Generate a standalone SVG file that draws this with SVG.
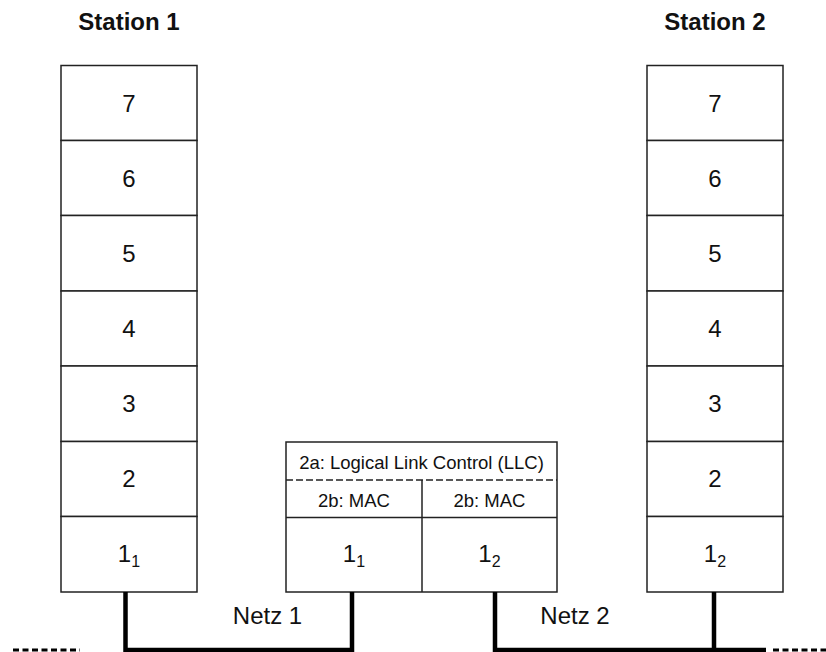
<svg xmlns="http://www.w3.org/2000/svg" width="826" height="652" viewBox="0 0 826 652">
<style>
  .box{fill:#fff;stroke:#222;stroke-width:1.5}
  .ln{stroke:#222;stroke-width:1.5;fill:none}
  .dl{stroke:#222;stroke-width:1.5;stroke-dasharray:7 3;fill:none}
  .t{font-family:"Liberation Sans",Arial,sans-serif;font-size:24px;fill:#111;text-anchor:middle}
  .h{font-family:"Liberation Sans",Arial,sans-serif;font-size:24px;font-weight:bold;fill:#111;text-anchor:middle}
  .s{font-family:"Liberation Sans",Arial,sans-serif;font-size:18.5px;fill:#111;text-anchor:middle}
  .sub{font-size:16px}
  .net{stroke:#000;stroke-width:4.5;fill:none}
  .netd{stroke:#000;stroke-width:3;stroke-dasharray:6 3.5;fill:none}
</style>
<g id="title1"><text class="h" x="129" y="30">Station 1</text></g>
<g id="title2"><text class="h" x="715" y="30">Station 2</text></g>

<g id="station1">
  <g id="s1-l7"><rect class="box" x="61" y="65.5" width="136" height="75"/><text class="t" x="129" y="111.6">7</text></g>
  <g id="s1-l6"><rect class="box" x="61" y="140.5" width="136" height="75"/><text class="t" x="129" y="186.6">6</text></g>
  <g id="s1-l5"><rect class="box" x="61" y="215.5" width="136" height="75.5"/><text class="t" x="129" y="261.8">5</text></g>
  <g id="s1-l4"><rect class="box" x="61" y="291" width="136" height="75"/><text class="t" x="129" y="337">4</text></g>
  <g id="s1-l3"><rect class="box" x="61" y="366" width="136" height="75.5"/><text class="t" x="129" y="412">3</text></g>
  <g id="s1-l2"><rect class="box" x="61" y="441.5" width="136" height="75"/><text class="t" x="129" y="487.3">2</text></g>
  <g id="s1-l1"><rect class="box" x="61" y="516.5" width="136" height="75.5"/><text class="t" x="129" y="562">1<tspan class="sub" dy="4.5">1</tspan></text></g>
</g>

<g id="station2">
  <g id="s2-l7"><rect class="box" x="647" y="65.5" width="136" height="75"/><text class="t" x="715" y="111.6">7</text></g>
  <g id="s2-l6"><rect class="box" x="647" y="140.5" width="136" height="75"/><text class="t" x="715" y="186.6">6</text></g>
  <g id="s2-l5"><rect class="box" x="647" y="215.5" width="136" height="75.5"/><text class="t" x="715" y="261.8">5</text></g>
  <g id="s2-l4"><rect class="box" x="647" y="291" width="136" height="75"/><text class="t" x="715" y="337">4</text></g>
  <g id="s2-l3"><rect class="box" x="647" y="366" width="136" height="75.5"/><text class="t" x="715" y="412">3</text></g>
  <g id="s2-l2"><rect class="box" x="647" y="441.5" width="136" height="75"/><text class="t" x="715" y="487.3">2</text></g>
  <g id="s2-l1"><rect class="box" x="647" y="516.5" width="136" height="75.5"/><text class="t" x="715" y="562">1<tspan class="sub" dy="4.5">2</tspan></text></g>
</g>

<g id="bridge">
  <rect class="box" x="286" y="442" width="271" height="150"/>
  <line class="dl" x1="286" y1="480" x2="557" y2="480"/>
  <line class="ln" x1="286" y1="517.5" x2="557" y2="517.5"/>
  <line class="ln" x1="422" y1="480" x2="422" y2="592"/>
  <text class="s" x="421.5" y="468.5">2a: Logical Link Control (LLC)</text>
  <text class="s" x="354" y="506.5">2b: MAC</text>
  <text class="s" x="489.5" y="506.5">2b: MAC</text>
  <text class="t" x="354" y="562">1<tspan class="sub" dy="4.5">1</tspan></text>
  <text class="t" x="489.5" y="562">1<tspan class="sub" dy="4.5">2</tspan></text>
</g>

<g id="connectors">
  <polyline class="net" points="125.5,592 125.5,650 352,650 352,592"/>
  <polyline class="net" points="495,592 495,650 714,650 714,592"/>
  <line class="net" x1="714" y1="650" x2="766" y2="650"/>
  <line class="netd" x1="13" y1="650" x2="80" y2="650"/>
  <line class="netd" x1="773" y1="650" x2="826" y2="650"/>
</g>

<g id="labels">
  <text class="t" x="267.5" y="624">Netz 1</text>
  <text class="t" x="575" y="624">Netz 2</text>
</g>
</svg>
